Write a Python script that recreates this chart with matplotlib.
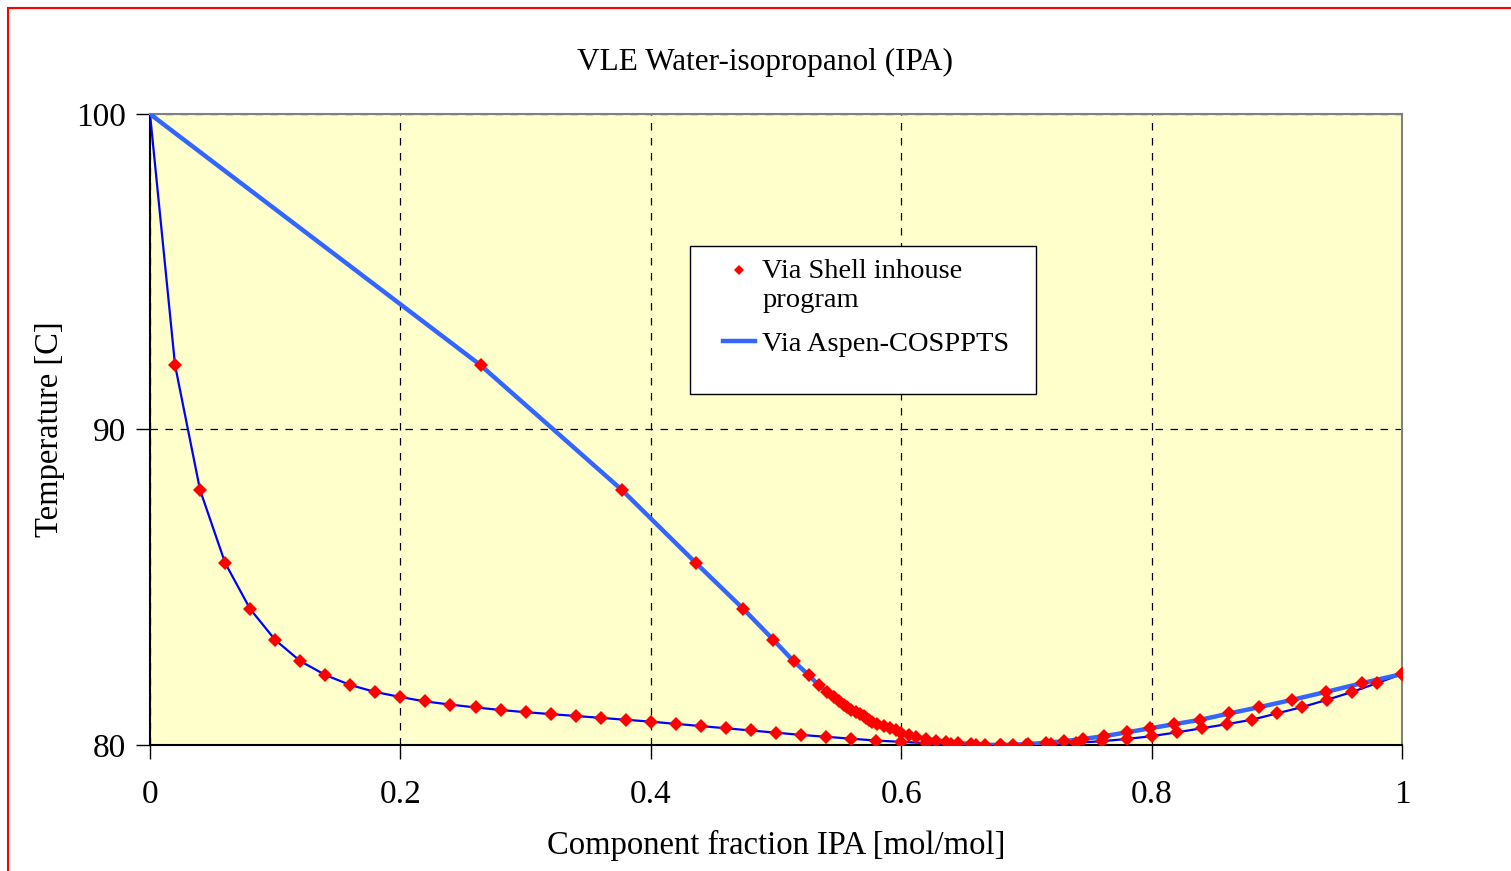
import matplotlib
matplotlib.use("Agg")
import matplotlib.pyplot as plt
from matplotlib.patches import Rectangle
from matplotlib.legend_handler import HandlerLine2D

plt.rcParams['font.family'] = ['Liberation Serif', 'DejaVu Serif']

# Shell inhouse program: liquid fraction, vapour fraction, temperature
x_liq = [0.02, 0.04, 0.06, 0.08, 0.10, 0.12, 0.14, 0.16, 0.18, 0.20,
         0.22, 0.24, 0.26, 0.28, 0.30, 0.32, 0.34, 0.36, 0.38, 0.40,
         0.42, 0.44, 0.46, 0.48, 0.50, 0.52, 0.54, 0.56, 0.58, 0.60,
         0.62, 0.64, 0.66, 0.68, 0.70, 0.72, 0.74, 0.76, 0.78, 0.80,
         0.82, 0.84, 0.86, 0.88, 0.90, 0.92, 0.94, 0.96, 0.98, 1.00]
y_vap = [0.264, 0.377, 0.436, 0.474, 0.498, 0.514, 0.526, 0.534, 0.541, 0.546,
         0.550, 0.554, 0.557, 0.560, 0.564, 0.567, 0.570, 0.572, 0.574, 0.577,
         0.581, 0.586, 0.591, 0.596, 0.600, 0.606, 0.612, 0.620, 0.628, 0.636,
         0.645, 0.656, 0.667, 0.679, 0.689, 0.701, 0.716, 0.730, 0.745, 0.762,
         0.780, 0.799, 0.818, 0.839, 0.862, 0.886, 0.912, 0.939, 0.968, 1.000]
temp = [92.04, 88.08, 85.77, 84.31, 83.33, 82.66, 82.22, 81.90, 81.68, 81.52,
        81.38, 81.28, 81.19, 81.11, 81.04, 80.98, 80.92, 80.86, 80.80, 80.74,
        80.67, 80.60, 80.53, 80.46, 80.39, 80.32, 80.26, 80.20, 80.14, 80.10,
        80.06, 80.03, 80.01, 80.00, 80.01, 80.03, 80.07, 80.12, 80.19, 80.28,
        80.40, 80.53, 80.66, 80.80, 81.00, 81.20, 81.43, 81.68, 81.96, 82.25]

# Aspen-COSPPTS curves start at pure water
t_water = 100.0
aspen_x = [0.0] + x_liq
aspen_y = [0.0] + y_vap
aspen_t = [t_water] + temp


class TopMarkerHandler(HandlerLine2D):
    # put the marker next to the first line of a two-line label
    def create_artists(self, legend, orig_handle, xdescent, ydescent,
                       width, height, fontsize, trans):
        arts = super().create_artists(legend, orig_handle, xdescent, ydescent,
                                      width, height, fontsize, trans)
        for a in arts:
            a.set_ydata([v + 11.5 for v in a.get_ydata()])
            a.set_markersize(5.5)
        return arts


fig = plt.figure(figsize=(15.11, 8.71), dpi=100)
ax = fig.add_axes([150 / 1511, 1 - 745 / 871, 1252 / 1511, 631 / 871])
ax.set_facecolor('#FFFFCC')

ax.plot(aspen_x, aspen_t, color='#0000FF', lw=1.6, zorder=3)
aspen_line, = ax.plot(aspen_y, aspen_t, color='#3366FF', lw=3.2, zorder=3)
shell_pts, = ax.plot(x_liq, temp, 'D', color='red', ms=7.3, mew=0, zorder=4)
ax.plot(y_vap, temp, 'D', color='red', ms=7.3, mew=0, zorder=4)

ax.set_xlim(0, 1)
ax.set_ylim(80, 100)
ax.set_xticks([0, 0.2, 0.4, 0.6, 0.8, 1])
ax.set_xticklabels(['0', '0.2', '0.4', '0.6', '0.8', '1'])
ax.set_yticks([80, 90, 100])
ax.tick_params(labelsize=24, length=10, width=1, direction='out')
ax.tick_params(axis='x', pad=15)
ax.tick_params(axis='y', pad=7.5)
ax.grid(True, color='black', ls=(0, (6, 6)), lw=0.9)

for s in ['top', 'right']:
    ax.spines[s].set_color('#808080')
    ax.spines[s].set_linewidth(1.5)
for s in ['left', 'bottom']:
    ax.spines[s].set_color('black')
    ax.spines[s].set_linewidth(1.5)

ax.set_title('VLE Water-isopropanol (IPA)', fontsize=22.5, pad=32, x=0.491)
ax.set_xlabel('Component fraction IPA [mol/mol]', fontsize=23.5, labelpad=14)
ax.set_ylabel('Temperature [C]', fontsize=23.5, labelpad=8)

# legend box
ax.add_patch(Rectangle((0.431, 0.556), 0.277, 0.235, transform=ax.transAxes,
                       facecolor='white', edgecolor='black', lw=1, zorder=5))
leg = ax.legend([shell_pts, aspen_line],
                ['Via Shell inhouse\nprogram', 'Via Aspen-COSPPTS'],
                handler_map={shell_pts: TopMarkerHandler()},
                loc='upper left', bbox_to_anchor=(0.4577, 0.770),
                fontsize=20.5, frameon=False, borderpad=0,
                handlelength=1.12, handletextpad=0.25, labelspacing=0.62,
                borderaxespad=0)
leg.set_zorder(6)

fig.patches.append(Rectangle((8 / 1511, -0.05), 1.1, 1 - 8 / 871 + 0.05,
                             transform=fig.transFigure, fill=False,
                             edgecolor='red', lw=1.5))

fig.savefig('out.png', dpi=100)
